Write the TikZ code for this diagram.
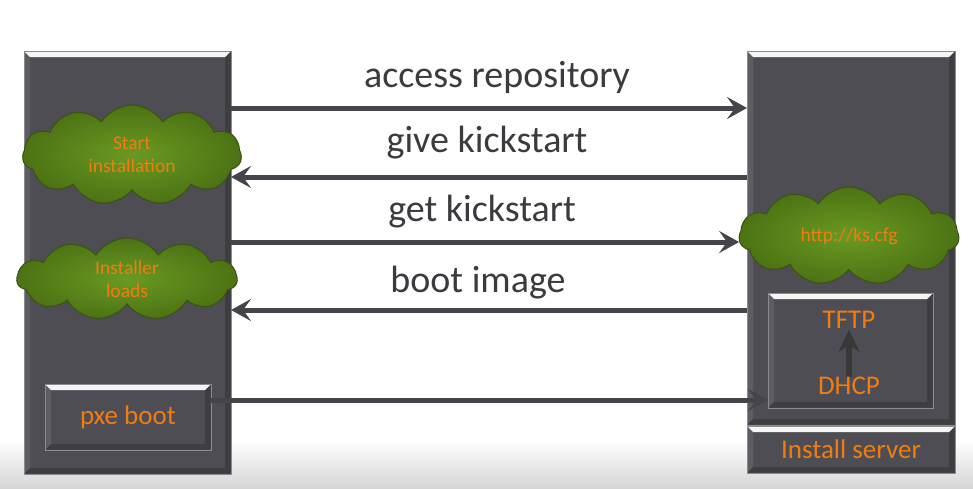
\documentclass[tikz,border=0pt]{standalone}
\usepackage{fontspec}
\setmainfont{Carlito}
\usetikzlibrary{arrows.meta,shapes.symbols,calc}
\definecolor{boxgray}{HTML}{4E4D53}
\definecolor{edgegray}{HTML}{8A8A90}
\definecolor{linegray}{HTML}{45444A}
\definecolor{txtgray}{HTML}{3B3B3F}
\definecolor{orangetxt}{HTML}{F07C12}
\definecolor{cloudin}{HTML}{6A9A22}
\definecolor{cloudout}{HTML}{4C7314}
\definecolor{cloudedge}{HTML}{3A5410}
\definecolor{sidelight}{HTML}{5E5D63}
\definecolor{sidedark}{HTML}{3E3D42}
\tikzset{
  bevel/.style={fill=boxgray, draw=edgegray, line width=0.8pt, inner sep=0pt, outer sep=0pt,
    path picture={
      \fill[sidelight] ([shift={(0.5pt,-0.5pt)}]path picture bounding box.north west)
        -- ([shift={(0.5pt,0.5pt)}]path picture bounding box.south west)
        -- ([shift={(6pt,6pt)}]path picture bounding box.south west)
        -- ([shift={(6pt,-6pt)}]path picture bounding box.north west) -- cycle;
      \fill[sidedark] ([shift={(-0.5pt,-0.5pt)}]path picture bounding box.north east)
        -- ([shift={(-0.5pt,0.5pt)}]path picture bounding box.south east)
        -- ([shift={(-6pt,6pt)}]path picture bounding box.south east)
        -- ([shift={(-6pt,-6pt)}]path picture bounding box.north east) -- cycle;
      \fill[sidedark] ([shift={(0.5pt,0.5pt)}]path picture bounding box.south west)
        -- ([shift={(-0.5pt,0.5pt)}]path picture bounding box.south east)
        -- ([shift={(-6pt,6pt)}]path picture bounding box.south east)
        -- ([shift={(6pt,6pt)}]path picture bounding box.south west) -- cycle;
      \fill[white!92!gray] ([shift={(0.5pt,-0.5pt)}]path picture bounding box.north west)
        -- ([shift={(-0.5pt,-0.5pt)}]path picture bounding box.north east)
        -- ([shift={(-6pt,-6pt)}]path picture bounding box.north east)
        -- ([shift={(6pt,-6pt)}]path picture bounding box.north west) -- cycle;
    }},
  cloudnode/.style={cloud, cloud puffs=11, cloud puff arc=115, aspect=2.3,
    inner color=cloudin, outer color=cloudout, draw=cloudedge, line width=1pt,
    inner sep=0pt, outer sep=0pt, text=orangetxt, font=\fontsize{19.5}{23}\selectfont, align=center},
  conn/.style={line width=5pt, draw=linegray, -{Stealth[length=20pt,width=22pt,inset=8pt]}},
  lbl/.style={text=txtgray, font=\fontsize{38}{40}\selectfont, inner sep=0pt},
  otext/.style={text=orangetxt, font=\fontsize{27}{30}\selectfont, inner sep=0pt},
}
\begin{document}
\begin{tikzpicture}[x=1pt,y=-1pt]
\useasboundingbox (0,0) rectangle (973,488);
\fill[white] (0,0) rectangle (973,488);
\shade[top color=white, bottom color=black!16] (0,440) rectangle (973,488);

% columns
\node[bevel, minimum width=207pt, minimum height=423pt] (L) at (127.5,262.5) {};
\node[bevel, minimum width=208pt, minimum height=374pt] (R) at (851,238) {};
\node[bevel, minimum width=208pt, minimum height=47pt] (IS) at (851,449.5) {};
\node[otext] at (IS.center) {Install server};

% inner boxes
\node[bevel, minimum width=166pt, minimum height=66pt] (PXE) at (128,417) {};
\node[otext] at (PXE.center) {pxe boot};
\node[bevel, minimum width=165pt, minimum height=115pt] (TB) at (850.5,350.5) {};
\node[otext] (TFTP) at (849,320) {TFTP};
\draw[line width=6.5pt, draw=black!78, -{Stealth[length=22pt,width=21pt,inset=7pt]}] (849,377) coordinate (dtop) -- ([yshift=-1pt]TFTP.south);
\node[otext, anchor=north] (DHCP) at (dtop) {DHCP};

% clouds
\node[cloudnode, minimum width=219pt, minimum height=100pt] (SI) at (132,155) {Start\\installation};
\node[cloudnode, minimum width=220pt, minimum height=82pt] (IL) at (127,279) {Installer\\loads};
\node[cloudnode, minimum width=220pt, minimum height=98pt] (KS) at (849,236) {http://ks.cfg};

% connectors
\draw[conn] (L.east |- 0,108) -- (R.west |- 0,108);
\draw[conn] (R.west |- 0,177) -- (L.east |- 0,177);
\draw[conn] (L.east |- 0,242) -- (KS.west |- 0,242);
\draw[conn] (R.west |- 0,310) -- (L.east |- 0,310);
\draw[conn] (PXE.east |- 0,400) -- (TB.west |- 0,400);

% labels
\node[lbl] at (497,77) {access repository};
\node[lbl] at (487,143) {give kickstart};
\node[lbl] at (482,212) {get kickstart};
\node[lbl] at (478,283) {boot image};
\end{tikzpicture}
\end{document}
